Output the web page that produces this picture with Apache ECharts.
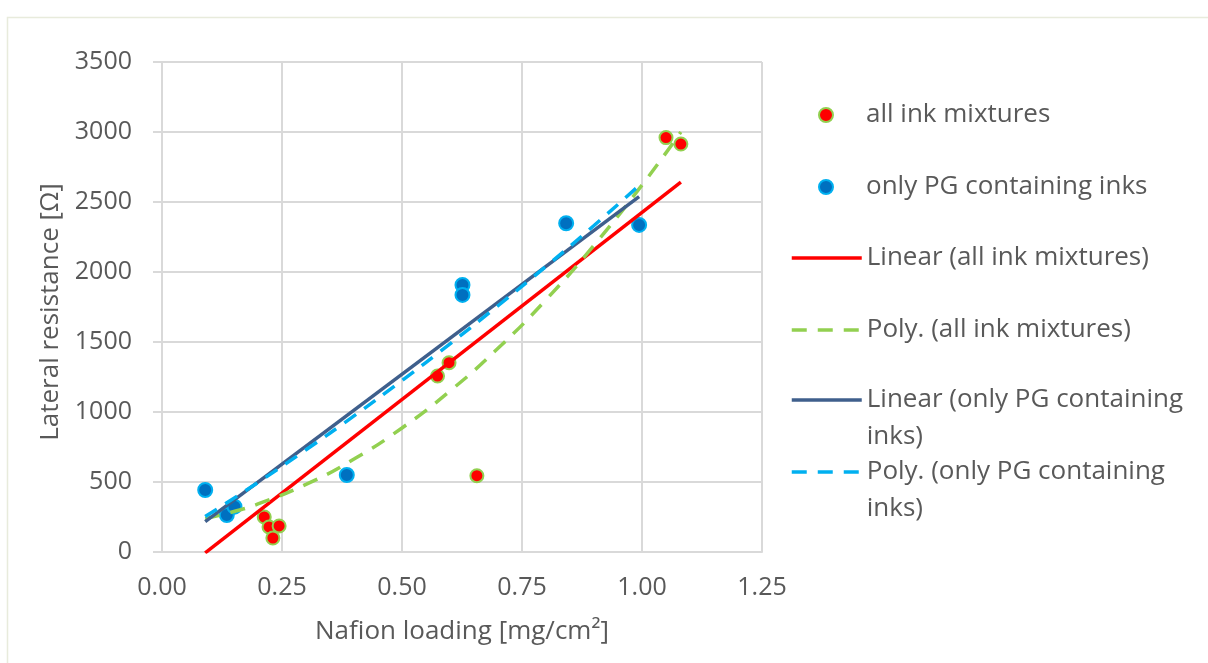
<!DOCTYPE html>
<html>
<head>
<meta charset="utf-8">
<script src="https://cdn.jsdelivr.net/npm/echarts@6/dist/echarts.min.js"></script>
<style>
html,body{margin:0;padding:0;background:#fff;}
#chart{width:1208px;height:663px;}
</style>
</head>
<body>
<div id="chart"></div>
<script>
// Scatter data: Nafion loading [mg/cm²] vs lateral resistance [Ω]
const allInkX = [0.213, 0.223, 0.244, 0.231, 0.574, 0.598, 0.656, 1.050, 1.081];
const allInkY = [250, 179, 186, 100, 1257, 1352, 545, 2960, 2914];
const pgInkX = [0.090, 0.135, 0.151, 0.385, 0.626, 0.626, 0.842, 0.994];
const pgInkY = [443, 264, 324, 550, 1907, 1836, 2348, 2336];

// Trendlines
const linAllX = [0.09, 1.081];
const linAllY = [-6, 2642];
const polyAllX = [0.09, 0.15, 0.2, 0.3, 0.4, 0.5, 0.6, 0.7, 0.8, 0.9, 1.0, 1.081];
const polyAllY = [238, 289, 343, 483, 664, 886, 1150, 1455, 1802, 2191, 2621, 3000];
const linPgX = [0.09, 0.994];
const linPgY = [217, 2538];
const polyPgX = [0.09, 0.2, 0.3, 0.4, 0.5, 0.6, 0.7, 0.8, 0.9, 0.994];
const polyPgY = [253, 497, 730, 972, 1225, 1487, 1759, 2040, 2332, 2618];

const seriesNames = [
  'all ink mixtures',
  'only PG containing inks',
  'Linear (all ink mixtures)',
  'Poly. (all ink mixtures)',
  'Linear (only PG containing inks)',
  'Poly. (only PG containing inks)'
];
const xTicks = [0, 0.25, 0.5, 0.75, 1.0, 1.25];
const yTicks = [0, 500, 1000, 1500, 2000, 2500, 3000, 3500];

const zip = (xs, ys) => xs.map((x, i) => [x, ys[i]]);

const FONT = 'Open Sans';
const TXT = '#595959';
const GRID = '#d9d9d9';
const DASH = [15, 11];

const legendCenters = [113, 185, 256, 328, 400, 472];
const wrapAt = {
  'Linear (only PG containing inks)': '\nLinear (only PG containing\ninks)',
  'Poly. (only PG containing inks)': '\nPoly. (only PG containing\ninks)'
};
const dashedNames = ['Poly. (all ink mixtures)', 'Poly. (only PG containing inks)'];
const legends = seriesNames.map((n, i) => {
  const two = !!wrapAt[n];
  const isScatter = i < 2;
  const lg = {
    orient: 'vertical',
    left: isScatter ? 818 : 790,
    top: legendCenters[i] - (two ? 55.5 : 16.5),
    padding: 0,
    itemWidth: 70,
    itemHeight: 14,
    selectedMode: false,
    data: [n],
    formatter: name => wrapAt[name] || name,
    textStyle: {color: TXT, fontSize: 26, fontFamily: FONT, lineHeight: 37}
  };
  if (!isScatter) {
    lg.itemStyle = {color: 'rgba(0,0,0,0)', borderWidth: 0, opacity: 0};
    lg.lineStyle = {width: 3.5, type: dashedNames.includes(n) ? DASH : 'solid'};
  }
  return lg;
});

const chart = echarts.init(document.getElementById('chart'), null, {renderer: 'canvas'});
chart.setOption({
  backgroundColor: '#ffffff',
  animation: false,
  graphic: [{
    type: 'rect', left: 5, top: 15, silent: true,
    shape: {x: 0, y: 0, width: 1260, height: 700},
    style: {fill: 'none', stroke: '#e8ebdc', lineWidth: 1.5}
  }],
  legend: legends,
  grid: {left: 162, top: 62, width: 600, height: 490, containLabel: false},
  xAxis: {
    type: 'value', min: 0, max: 1.25, interval: 0.25,
    name: 'Nafion loading [mg/cm²]', nameLocation: 'middle', nameGap: 67,
    nameTextStyle: {color: TXT, fontSize: 26, fontFamily: FONT},
    axisLine: {show: true, lineStyle: {color: GRID, width: 2}},
    axisTick: {show: false},
    splitLine: {show: true, lineStyle: {color: GRID, width: 2}},
    axisLabel: {
      color: TXT, fontSize: 25, fontFamily: FONT, margin: 23,
      formatter: v => v.toFixed(2)
    }
  },
  yAxis: {
    type: 'value', min: 0, max: 3500, interval: 500,
    name: 'Lateral resistance [Ω]', nameLocation: 'middle', nameGap: 98,
    nameTextStyle: {color: TXT, fontSize: 26, fontFamily: FONT, padding: [0, 10, 0, 0]},
    axisLine: {show: true, lineStyle: {color: GRID, width: 2}},
    axisTick: {show: true, length: 9, lineStyle: {color: GRID, width: 2}},
    splitLine: {show: true, lineStyle: {color: GRID, width: 2}},
    axisLabel: {color: TXT, fontSize: 25, fontFamily: FONT, margin: 30, formatter: v => String(v)}
  },
  series: [
    {
      name: seriesNames[0], type: 'scatter', symbol: 'circle', symbolSize: 13,
      data: zip(allInkX, allInkY), z: 3,
      itemStyle: {color: '#ff0000', borderColor: '#92d050', borderWidth: 2, opacity: 1}
    },
    {
      name: seriesNames[1], type: 'scatter', symbol: 'circle', symbolSize: 14,
      data: zip(pgInkX, pgInkY), z: 3,
      itemStyle: {color: '#0070c0', borderColor: '#00b0f0', borderWidth: 2, opacity: 1}
    },
    {
      name: seriesNames[2], type: 'line', symbol: 'none', data: zip(linAllX, linAllY), z: 4,
      lineStyle: {color: '#ff0000', width: 3.5}, itemStyle: {color: '#ff0000'}
    },
    {
      name: seriesNames[3], type: 'line', symbol: 'none', smooth: true, data: zip(polyAllX, polyAllY), z: 4,
      lineStyle: {color: '#92d050', width: 3.5, type: DASH}, itemStyle: {color: '#92d050'}
    },
    {
      name: seriesNames[4], type: 'line', symbol: 'none', data: zip(linPgX, linPgY), z: 4,
      lineStyle: {color: '#3f5f8c', width: 3.5}, itemStyle: {color: '#3f5f8c'}
    },
    {
      name: seriesNames[5], type: 'line', symbol: 'none', smooth: true, data: zip(polyPgX, polyPgY), z: 4,
      lineStyle: {color: '#00b0f0', width: 3.5, type: [14, 10]}, itemStyle: {color: '#00b0f0'}
    }
  ]
});
</script>
</body>
</html>
